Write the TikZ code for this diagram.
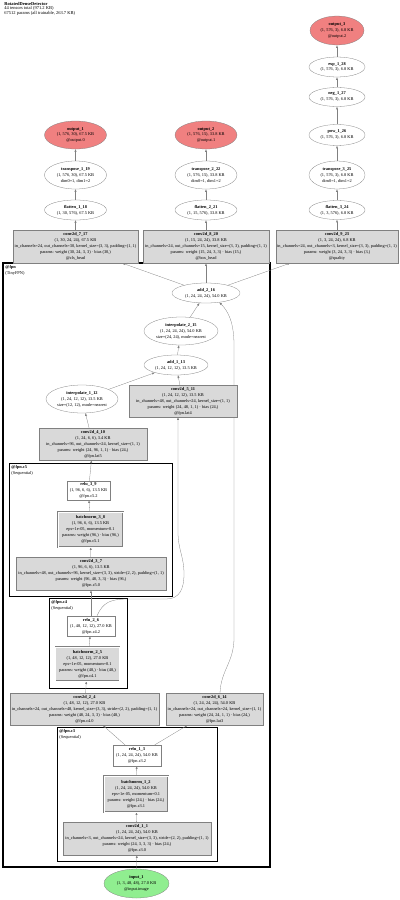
\documentclass[tikz,border=0pt]{standalone}
\usepackage{fontspec}
\setmainfont{Liberation Serif}
\usetikzlibrary{shapes.geometric,backgrounds}
\definecolor{outred}{RGB}{240,128,128}
\definecolor{ingreen}{RGB}{144,238,144}
\definecolor{boxgray}{RGB}{217,217,217}
\definecolor{edgegray}{RGB}{128,128,128}

\begin{document}
\begin{tikzpicture}[x=0.5mm,y=-0.5mm,>=latex,
  every node/.style={font=\fontsize{6.2}{8.5}\selectfont,align=center,inner sep=0.5pt},
  op/.style={ellipse,draw=edgegray,fill=white},
  outp/.style={ellipse,draw=edgegray,fill=outred},
  inp/.style={ellipse,draw=edgegray,fill=ingreen},
  layer/.style={rectangle,draw=edgegray,fill=boxgray},
  bnorm/.style={rectangle,draw=edgegray,fill=boxgray,double=white,double distance=0.8pt},
  act/.style={rectangle,draw=edgegray,fill=white},
  link/.style={->,draw=edgegray},
  cluster/.style={draw=black,line width=1.1pt},
  clabel/.style={anchor=north west,align=left}]
  \useasboundingbox (0,0) rectangle (400,900);

  \node[clabel,font=\fontsize{6.4}{6.6}\selectfont] (title) at (4,1.5) {\textbf{RotatedDenseDetector}\\44 tensors total (971.2 KB)\\67512 params (all trainable, 263.7 KB)};

  \node[outp,minimum width=27mm,minimum height=14.5mm] (out3) at (337,30.5) {\textbf{output\_3}\\(1, 576, 3), 6.8 KB\\@output.2};
  \node[op,minimum width=28mm,minimum height=10mm] (exp1) at (337,67) {\textbf{exp\_1\_28}\\(1, 576, 3), 6.8 KB};
  \node[op,minimum width=28mm,minimum height=9.5mm] (neg1) at (337,97) {\textbf{neg\_1\_27}\\(1, 576, 3), 6.8 KB};
  \node[op,minimum width=28mm,minimum height=10.5mm] (pow1) at (337,135) {\textbf{pow\_1\_26}\\(1, 576, 3), 6.8 KB};
  \node[op,minimum width=28mm,minimum height=14mm] (trans3) at (337,175) {\textbf{transpose\_3\_25}\\(1, 576, 3), 6.8 KB\\dim0=1, dim1=2};
  \node[op,minimum width=28mm,minimum height=9.5mm] (flat3) at (337,210) {\textbf{flatten\_3\_24}\\(1, 3, 576), 6.8 KB};
  \node[layer,minimum width=61mm,minimum height=16.5mm] (conv9) at (337,246.5) {\textbf{conv2d\_9\_23}\\(1, 3, 24, 24), 6.8 KB\\in\_channels=24, out\_channels=3, kernel\_size=(3, 3), padding=(1, 1)\\params: weight (3, 24, 3, 3) · bias (3,)\\@quality};

  \node[outp,minimum width=31mm,minimum height=14mm] (out2) at (206,135) {\textbf{output\_2}\\(1, 576, 15), 33.8 KB\\@output.1};
  \node[op,minimum width=31mm,minimum height=14mm] (trans2) at (206,175) {\textbf{transpose\_2\_22}\\(1, 576, 15), 33.8 KB\\dim0=1, dim1=2};
  \node[op,minimum width=31mm,minimum height=10mm] (flat2) at (206,210) {\textbf{flatten\_2\_21}\\(1, 15, 576), 33.8 KB};
  \node[layer,minimum width=63mm,minimum height=16.5mm] (conv8) at (206,246.5) {\textbf{conv2d\_8\_20}\\(1, 15, 24, 24), 33.8 KB\\in\_channels=24, out\_channels=15, kernel\_size=(3, 3), padding=(1, 1)\\params: weight (15, 24, 3, 3) · bias (15,)\\@box\_head};

  \node[outp,minimum width=31mm,minimum height=14mm] (out1) at (75.5,135) {\textbf{output\_1}\\(1, 576, 30), 67.5 KB\\@output.0};
  \node[op,minimum width=31mm,minimum height=14mm] (trans1) at (75.5,175) {\textbf{transpose\_1\_19}\\(1, 576, 30), 67.5 KB\\dim0=1, dim1=2};
  \node[op,minimum width=31mm,minimum height=10mm] (flat1) at (75.5,210) {\textbf{flatten\_1\_18}\\(1, 30, 576), 67.5 KB};
  \node[layer,minimum width=62.5mm,minimum height=16.5mm] (conv7) at (75.5,246.5) {\textbf{conv2d\_7\_17}\\(1, 30, 24, 24), 67.5 KB\\in\_channels=24, out\_channels=30, kernel\_size=(3, 3), padding=(1, 1)\\params: weight (30, 24, 3, 3) · bias (30,)\\@cls\_head};

  \node[op,minimum width=34mm,minimum height=10mm] (add2) at (206,293) {\textbf{add\_2\_16}\\(1, 24, 24, 24), 54.0 KB};
  \node[op,minimum width=37mm,minimum height=14mm] (interp2) at (181,331) {\textbf{interpolate\_2\_15}\\(1, 24, 24, 24), 54.0 KB\\size=(24, 24), mode=nearest};
  \node[op,minimum width=32mm,minimum height=10mm] (add1) at (176,365) {\textbf{add\_1\_13}\\(1, 24, 12, 12), 13.5 KB};
  \node[op,minimum width=36mm,minimum height=14mm] (interp1) at (82,399) {\textbf{interpolate\_1\_12}\\(1, 24, 12, 12), 13.5 KB\\size=(12, 12), mode=nearest};
  \node[layer,minimum width=54mm,minimum height=16mm] (conv5) at (183,401) {\textbf{conv2d\_5\_11}\\(1, 24, 12, 12), 13.5 KB\\in\_channels=48, out\_channels=24, kernel\_size=(1, 1)\\params: weight (24, 48, 1, 1) · bias (24,)\\@fpn.lat4};
  \node[layer,minimum width=54mm,minimum height=16mm] (conv4) at (93,444) {\textbf{conv2d\_4\_10}\\(1, 24, 6, 6), 3.4 KB\\in\_channels=96, out\_channels=24, kernel\_size=(1, 1)\\params: weight (24, 96, 1, 1) · bias (24,)\\@fpn.lat5};

  \node[act,minimum width=21.5mm,minimum height=9.5mm] (relu3) at (88.5,490.5) {\textbf{relu\_3\_9}\\(1, 96, 6, 6), 13.5 KB\\@fpn.c5.2};
  \node[bnorm,minimum width=32.5mm,minimum height=17.5mm] (bn3) at (90.5,529.5) {\textbf{batchnorm\_3\_8}\\(1, 96, 6, 6), 13.5 KB\\eps=1e-05, momentum=0.1\\params: weight (96,) · bias (96,)\\@fpn.c5.1};
  \node[layer,minimum width=75mm,minimum height=16.5mm] (conv3) at (91,573.5) {\textbf{conv2d\_3\_7}\\(1, 96, 6, 6), 13.5 KB\\in\_channels=48, out\_channels=96, kernel\_size=(3, 3), stride=(2, 2), padding=(1, 1)\\params: weight (96, 48, 3, 3) · bias (96,)\\@fpn.c5.0};

  \node[act,minimum width=24mm,minimum height=10mm] (relu2) at (91,626) {\textbf{relu\_2\_6}\\(1, 48, 12, 12), 27.0 KB\\@fpn.c4.2};
  \node[bnorm,minimum width=32mm,minimum height=17mm] (bn2) at (87.5,664) {\textbf{batchnorm\_2\_5}\\(1, 48, 12, 12), 27.0 KB\\eps=1e-05, momentum=0.1\\params: weight (48,) · bias (48,)\\@fpn.c4.1};
  \node[layer,minimum width=74.5mm,minimum height=16mm] (conv2) at (84.5,709) {\textbf{conv2d\_2\_4}\\(1, 48, 12, 12), 27.0 KB\\in\_channels=24, out\_channels=48, kernel\_size=(3, 3), stride=(2, 2), padding=(1, 1)\\params: weight (48, 24, 3, 3) · bias (48,)\\@fpn.c4.0};
  \node[layer,minimum width=48.5mm,minimum height=16mm] (conv6) at (214.5,709) {\textbf{conv2d\_6\_14}\\(1, 24, 24, 24), 54.0 KB\\in\_channels=24, out\_channels=24, kernel\_size=(1, 1)\\params: weight (24, 24, 1, 1) · bias (24,)\\@fpn.lat3};

  \node[act,minimum width=24mm,minimum height=10.5mm] (relu1) at (137,755.5) {\textbf{relu\_1\_3}\\(1, 24, 24, 24), 54.0 KB\\@fpn.c3.2};
  \node[bnorm,minimum width=32mm,minimum height=18mm] (bn1) at (136,794) {\textbf{batchnorm\_1\_2}\\(1, 24, 24, 24), 54.0 KB\\eps=1e-05, momentum=0.1\\params: weight (24,) · bias (24,)\\@fpn.c3.1};
  \node[layer,minimum width=74mm,minimum height=16.5mm] (conv1) at (137,838.5) {\textbf{conv2d\_1\_1}\\(1, 24, 24, 24), 54.0 KB\\in\_channels=3, out\_channels=24, kernel\_size=(3, 3), stride=(2, 2), padding=(1, 1)\\params: weight (24, 3, 3, 3) · bias (24,)\\@fpn.c3.0};
  \node[inp,minimum width=32.5mm,minimum height=14.5mm] (in1) at (136.5,883.5) {\textbf{input\_1}\\(1, 3, 48, 48), 27.0 KB\\@input.image};

  \node[clabel] (fpnlbl) at (5,265) {\textbf{@fpn}\\(TinyFPN)};
  \node[clabel] (c5lbl) at (11,465) {\textbf{@fpn.c5}\\(Sequential)};
  \node[clabel] (c4lbl) at (51,600) {\textbf{@fpn.c4}\\(Sequential)};
  \node[clabel] (c3lbl) at (59,729) {\textbf{@fpn.c3}\\(Sequential)};

  \begin{scope}[on background layer]
    \draw[cluster,line width=1.6pt] (3,263) rectangle (270,867);
    \draw[cluster] (9,463) rectangle (172,596.5);
    \draw[cluster] (49,598.5) rectangle (127,688);
    \draw[cluster] (57,727) rectangle (217,861);

    \draw[link] (in1) -- (conv1);
    \draw[link] (conv1) -- (bn1);
    \draw[link] (bn1) -- (relu1);
    \draw[link] (relu1) -- (conv2);
    \draw[link] (relu1) -- (conv6);
    \draw[link] (conv2) -- (bn2);
    \draw[link] (bn2) -- (relu2);
    \draw[link] (relu2) -- (conv3);
    \draw[link] ([xshift=3mm]relu2.north) .. controls (103,602) and (111,599) .. (128,599) -- (166,599) .. controls (179,599) and (184,590) .. (184,574) .. controls (184,556) and (178,550) .. (178,532) -- ([xshift=-2.5mm]conv5.south);
    \draw[link] (conv3) -- (bn3);
    \draw[link] (bn3) -- (relu3);
    \draw[link] (relu3) -- (conv4);
    \draw[link] (conv4) -- (interp1);
    \draw[link] (interp1) -- (add1);
    \draw[link] (conv5) -- (add1);
    \draw[link] (add1) -- (interp2);
    \draw[link] (interp2) -- (add2);
    \draw[link] ([xshift=2.75mm]conv6.north) .. controls (221,670) and (234,662) .. (234,638) -- (234,345) .. controls (234,322) and (228,311) .. (add2.-35);
    \draw[link] (add2) -- (conv7);
    \draw[link] (add2) -- (conv8);
    \draw[link] (add2) -- (conv9);
    \draw[link] (conv7) -- (flat1);
    \draw[link] (flat1) -- (trans1);
    \draw[link] (trans1) -- (out1);
    \draw[link] (conv8) -- (flat2);
    \draw[link] (flat2) -- (trans2);
    \draw[link] (trans2) -- (out2);
    \draw[link] (conv9) -- (flat3);
    \draw[link] (flat3) -- (trans3);
    \draw[link] (trans3) -- (pow1);
    \draw[link] (pow1) -- (neg1);
    \draw[link] (neg1) -- (exp1);
    \draw[link] (exp1) -- (out3);
  \end{scope}
\end{tikzpicture}
\end{document}
